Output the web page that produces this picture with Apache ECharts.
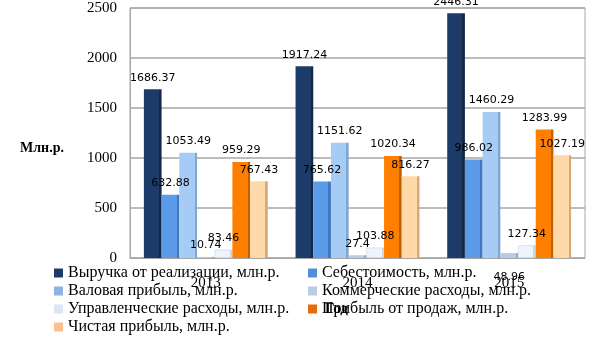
<!DOCTYPE html>
<html>
<head>
<meta charset="utf-8">
<script src="https://cdn.jsdelivr.net/npm/echarts@6/dist/echarts.min.js"></script>
<style>html,body{margin:0;padding:0;background:#fff}#c{width:605px;height:340px}</style>
</head>
<body>
<div id="c"></div>
<script>
var categories = ['2013', '2014', '2015'];
var seriesNames = [
  'Выручка от реализации, млн.р.',
  'Себестоимость, млн.р.',
  'Валовая прибыль, млн.р.',
  'Коммерческие расходы, млн.р.',
  'Управленческие расходы, млн.р.',
  'Прибыль от продаж, млн.р.',
  'Чистая прибыль, млн.р.'
];
var revenue = [1686.37, 1917.24, 2446.31];
var cost = [632.88, 765.62, 986.02];
var grossProfit = [1053.49, 1151.62, 1460.29];
var commercial = [10.74, 27.4, 48.96];
var management = [83.46, 103.88, 127.34];
var salesProfit = [959.29, 1020.34, 1283.99];
var netProfit = [767.43, 816.27, 1027.19];
var yTicks = [0, 500, 1000, 1500, 2000, 2500];

var values = [revenue, cost, grossProfit, commercial, management, salesProfit, netProfit];
var faceColors = ['#1D3B68', '#5B9BE8', '#A6CBF5', '#B7CCE6', '#EEF4FB', '#FF8000', '#FFD9A8'];
var sideColors = ['#132848', '#3F78BF', '#7FA6D3', '#8FA8C8', '#C9D6E6', '#C25F00', '#D9A878'];
var legendColors = ['#1F3864', '#4F8FD6', '#8DB3E2', '#B8CCE4', '#DCE6F2', '#E46C0A', '#FAC090'];

var series = values.map(function (arr, i) {
  return {
    name: seriesNames[i],
    type: 'bar',
    barWidth: 17.7,
    barGap: '0%',
    data: arr.map(function (v, j) {
      var item = { value: v };
      if (i === 3 && j === 2) {
        item.label = { position: 'bottom', distance: 14 };
      }
      return item;
    }),
    itemStyle: {
      color: {
        type: 'linear', x: 0, y: 0, x2: 1, y2: 0,
        colorStops: [
          { offset: 0, color: faceColors[i] },
          { offset: 0.86, color: faceColors[i] },
          { offset: 0.86, color: sideColors[i] },
          { offset: 1, color: sideColors[i] }
        ]
      },
      borderColor: i === 4 ? '#C6D4E6' : 'transparent',
      borderWidth: i === 4 ? 0.6 : 0
    },
    label: {
      show: true,
      position: 'top',
      distance: 6,
      fontFamily: 'DejaVu Sans',
      fontSize: 11,
      color: '#000'
    }
  };
});

function legendData(idx) {
  return idx.map(function (i) {
    return { name: seriesNames[i], itemStyle: { color: legendColors[i], borderWidth: 0 } };
  });
}
var legendCommon = {
  orient: 'vertical',
  itemWidth: 9,
  itemHeight: 9,
  itemGap: 2,
  padding: 0,
  height: 80,
  icon: 'rect',
  textStyle: { fontFamily: 'Liberation Serif', fontSize: 16, color: '#000', lineHeight: 15 },
  selectedMode: false
};

var chart = echarts.init(document.getElementById('c'));
chart.setOption({
  animation: false,
  grid: { left: 130, right: 20, top: 8, bottom: 82, show: true, borderColor: '#A6A6A6', borderWidth: 1 },
  xAxis: {
    type: 'category',
    data: categories,
    axisTick: { show: false },
    axisLine: { lineStyle: { color: '#A6A6A6' } },
    axisLabel: { fontFamily: 'Liberation Serif', fontSize: 15, color: '#000', margin: 18 }
  },
  yAxis: {
    type: 'value',
    min: yTicks[0],
    max: yTicks[yTicks.length - 1],
    interval: 500,
    axisLine: { show: true, lineStyle: { color: '#A6A6A6' } },
    axisTick: { show: false },
    splitLine: { lineStyle: { color: '#A6A6A6', width: 1.5 } },
    axisLabel: {
      fontFamily: 'Liberation Serif', fontSize: 15, color: '#000', margin: 13, padding: [10, 0, 0, 0],
      formatter: function (v) { return String(v); }
    }
  },
  legend: [
    Object.assign({ left: 54, top: 265, data: legendData([0, 2, 4, 6]) }, legendCommon),
    Object.assign({ left: 308, top: 265, data: legendData([1, 3, 5]) }, legendCommon)
  ],
  graphic: [
    { type: 'text', left: 20, top: 141, style: { text: 'Млн.р.', font: 'bold 14px "Liberation Serif"', fill: '#000' } },
    { type: 'text', left: 325, top: 302, style: { text: 'Год', font: 'bold 15px "Liberation Serif"', fill: '#000' } }
  ],
  series: series
});
</script>
</body>
</html>
